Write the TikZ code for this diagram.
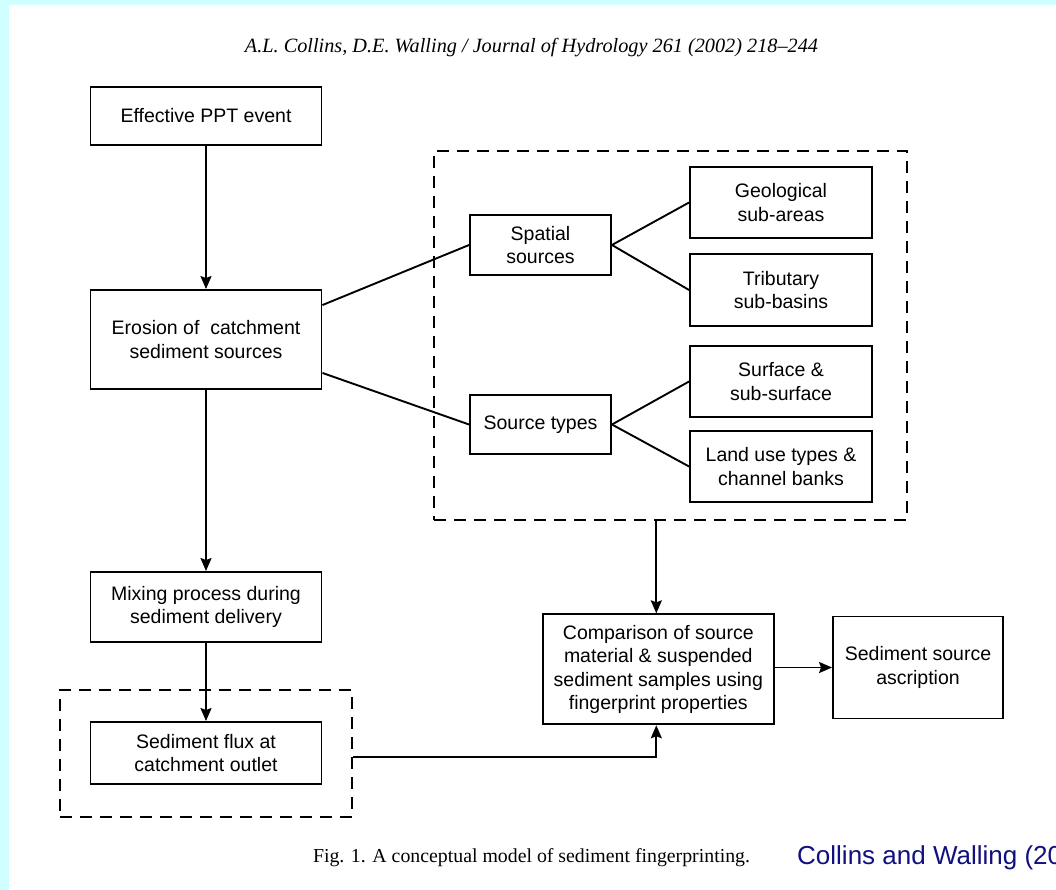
\documentclass[tikz,border=0pt]{standalone}
\usepackage{fontspec}
\setmainfont{Liberation Sans}
\newfontfamily\timesfont{Liberation Serif}
\usetikzlibrary{arrows.meta,calc}
\definecolor{bgcyan}{RGB}{208,255,255}
\definecolor{navyblue}{RGB}{16,16,128}
\begin{document}
\begin{tikzpicture}[x=1pt,y=-1pt,
  box/.style={draw,line width=1.9pt,inner sep=0pt,align=center,
    font=\fontsize{19.5}{23.5}\selectfont},
  dbox/.style={draw,line width=1.9pt,dash pattern=on 12pt off 8pt,inner sep=0pt},
  conn/.style={line width=1.9pt},
  arr/.style={line width=1.9pt,-{Stealth[length=13pt,width=11pt,inset=2pt]}}]
\useasboundingbox (0,0) rectangle (1056,890);
\fill[bgcyan] (0,0) rectangle (1056,890);
\fill[white] (9,5) rectangle (1056,890);

% header and caption
\node (hdr) at (531.5,48) {\resizebox{573pt}{!}{\timesfont\itshape\fontsize{18}{20}\selectfont A.L. Collins, D.E. Walling / Journal of Hydrology 261 (2002) 218–244}};
\node (cap) at (531.5,858) {\resizebox{437pt}{!}{\timesfont\fontsize{18}{20}\selectfont Fig. 1. A conceptual model of sediment fingerprinting.}};
\begin{scope}
\clip (0,0) rectangle (1056,890);
\node[anchor=west,inner sep=0pt,text=navyblue,font=\fontsize{26}{28}\selectfont] (cite) at (797,858) {Collins and Walling (2002)};
\end{scope}

% dashed groups
\node[dbox,minimum width=473pt,minimum height=369pt] (dbig) at (670.5,335.5) {};
\node[dbox,minimum width=292pt,minimum height=127pt] (dflux) at (206,753.5) {};

% left column
\node[box,minimum width=231pt,minimum height=58pt] (ppt) at (206,116) {Effective PPT event};
\node[box,minimum width=231pt,minimum height=99pt] (ero) at (206,339.5) {Erosion of~ catchment\\sediment sources};
\node[box,minimum width=231pt,minimum height=70pt] (mix) at (206,607) {Mixing process during\\sediment delivery};
\node[box,minimum width=231pt,minimum height=62pt,fill=white] (flux) at (206,753) {Sediment flux at\\catchment outlet};

% sources
\node[box,minimum width=141pt,minimum height=60pt] (spa) at (540.5,245) {Spatial\\sources};
\node[box,minimum width=141pt,minimum height=59pt] (typ) at (540.5,424.5) {Source types};
\node[box,minimum width=182pt,minimum height=71pt] (geo) at (781,202.5) {Geological\\sub-areas};
\node[box,minimum width=182pt,minimum height=72pt] (tri) at (781,290) {Tributary\\sub-basins};
\node[box,minimum width=182pt,minimum height=71pt] (sur) at (781,381.5) {Surface \&\\sub-surface};
\node[box,minimum width=182pt,minimum height=71pt] (lan) at (781,466.5) {Land use types \&\\channel banks};

% comparison and result
\node[box,minimum width=231pt,minimum height=110pt] (cmp) at (658.3,669.3) {Comparison of source\\material \& suspended\\sediment samples using\\fingerprint properties};
\node[box,minimum width=170pt,minimum height=102pt] (asc) at (918,667.5) {Sediment source\\ascription};

% connectors
\draw[arr] (ppt) -- (ero);
\draw[arr] (ero) -- (mix);
\draw[arr] (mix) -- (flux);
\draw[conn] ($(ero.north east)+(0,16)$) -- (spa.west);
\draw[conn] ($(ero.south east)+(0,-17)$) -- (typ.west);
\draw[conn] (spa.east) -- (geo.west);
\draw[conn] (spa.east) -- (tri.west);
\draw[conn] (typ.east) -- (sur.west);
\draw[conn] (typ.east) -- (lan.west);
\draw[arr] ($(cmp.north|-dbig.south)+(-2,0)$) -- ($(cmp.north)+(-2,0)$);
\coordinate (fluxout) at ($(dflux.east)+(0,3.5)$);
\draw[arr] (fluxout) -| ($(cmp.south)+(-2,0)$);
\draw[arr] (cmp.east|-asc.west) -- (asc.west);
\end{tikzpicture}
\end{document}
